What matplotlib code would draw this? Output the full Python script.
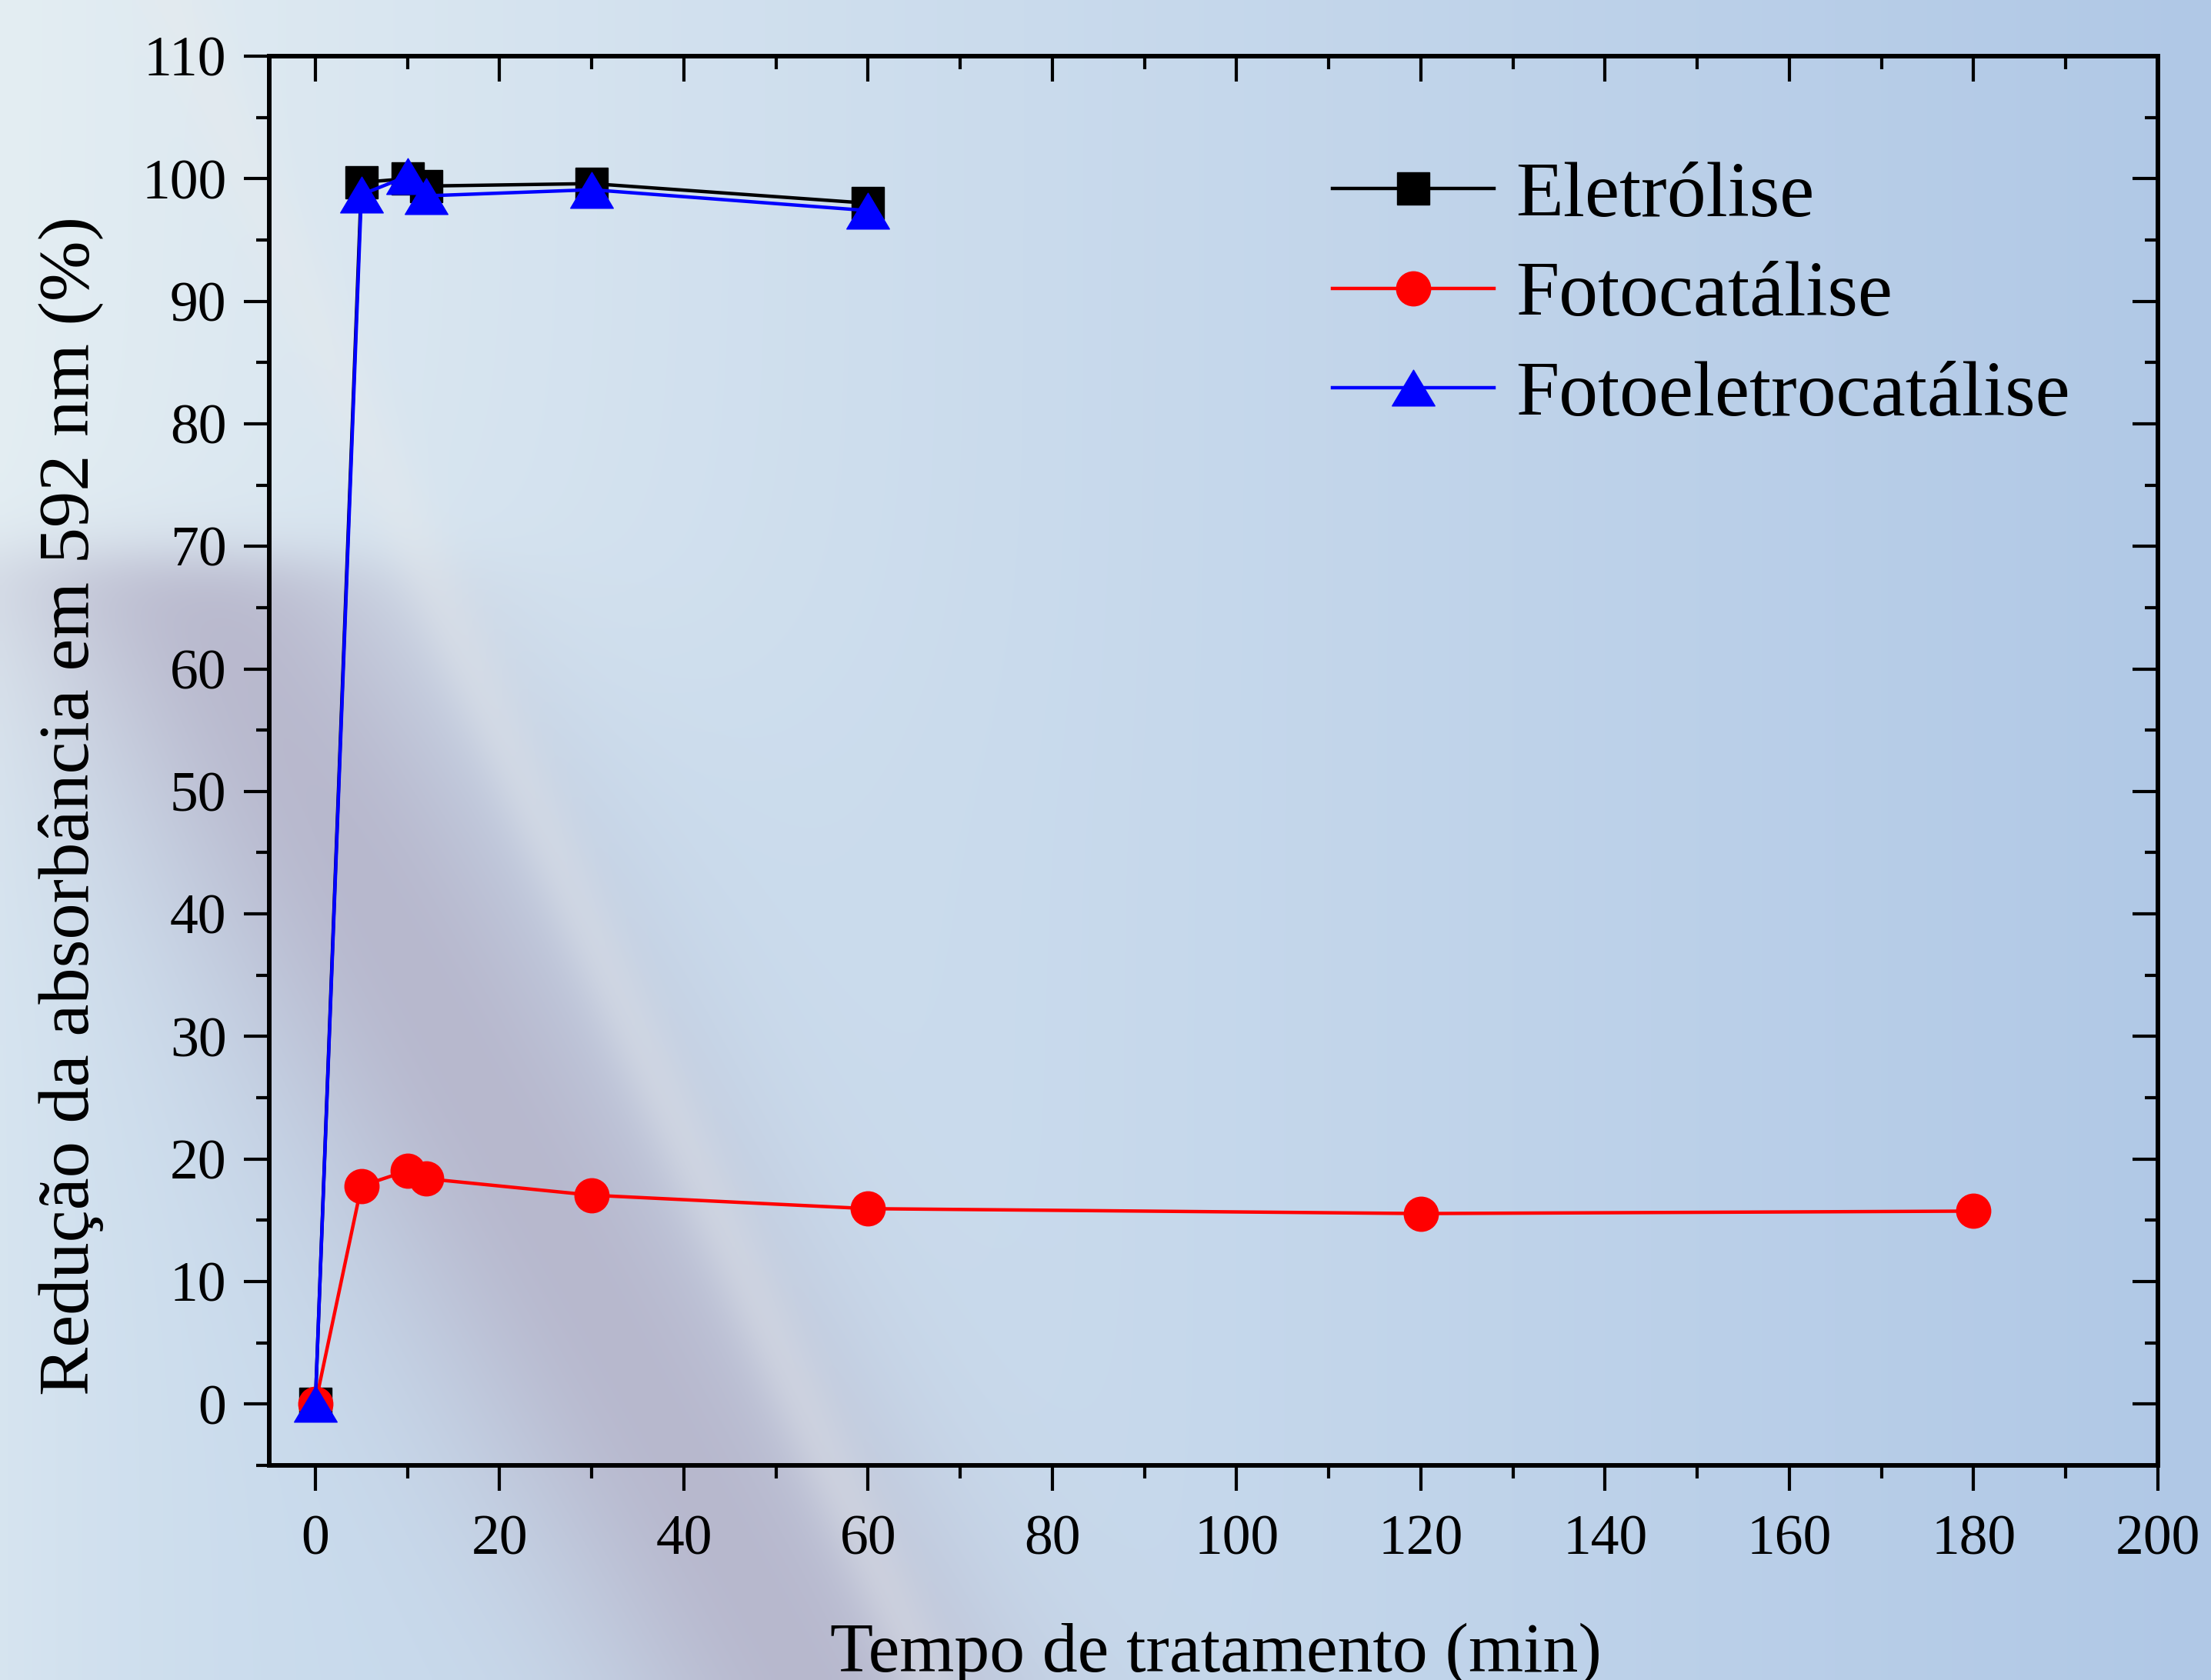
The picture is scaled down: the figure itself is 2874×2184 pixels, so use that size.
import numpy as np
import matplotlib
matplotlib.use("Agg")
import matplotlib.pyplot as plt
from matplotlib.path import Path
from matplotlib.ticker import MultipleLocator

# data
tempo_el = [0, 5, 10, 12, 30, 60]
eletrolise = [0, 99.7, 100.0, 99.4, 99.6, 98.0]

tempo_fc = [0, 5, 10, 12, 30, 60, 120, 180]
fotocatalise = [0, 17.8, 19.05, 18.4, 17.05, 15.95, 15.55, 15.75]

tempo_fec = [0, 5, 10, 12, 30, 60]
fotoeletro = [0, 98.7, 100.2, 98.6, 99.1, 97.4]

labels = ["Eletrólise", "Fotocatálise", "Fotoeletrocatálise"]

plt.rcParams["font.family"] = ["Liberation Serif", "DejaVu Serif"]

W, H = 2874, 2184
fig = plt.figure(figsize=(W / 100, H / 100), dpi=100)

# soft photo-like background (light blue with a grey-violet diagonal band)
bg = fig.add_axes([0, 0, 1, 1], zorder=-10)
gx, gy = np.meshgrid(np.linspace(0, 1568, 400), np.linspace(0, 1192, 304))
t = gx / 1568
img = np.zeros(gx.shape + (3,))
left_c = np.array([228, 238, 243]) / 255
right_c = np.array([176, 200, 230]) / 255
for k in range(3):
    img[..., k] = left_c[k] + (right_c[k] - left_c[k]) * t ** 0.9

# bluish lower-left area
blue_c = np.array([190, 211, 234]) / 255
m_blue = 1 / (1 + np.exp(-(gy - 500) / 60)) * np.exp(-((gx - 250) / 350) ** 2) * 0.6
for k in range(3):
    img[..., k] = img[..., k] * (1 - m_blue) + blue_c[k] * m_blue

# grey-violet band
grey_c = np.array([180, 178, 200]) / 255
xc = 380 + (gy - 850) * 0.55
m_grey = np.exp(-((gx - xc) / 150) ** 2) * (1 / (1 + np.exp(-(gy - 395) / 12))) * 0.85
for k in range(3):
    img[..., k] = img[..., k] * (1 - m_grey) + grey_c[k] * m_grey

# faint light streak
xs = 120 + gy * 0.45
m_light = np.exp(-((gx - xs) / 25) ** 2) * 0.3
for k in range(3):
    img[..., k] = img[..., k] * (1 - m_light) + 0.92 * m_light

bg.imshow(np.clip(img, 0, 1), aspect="auto", interpolation="bilinear", extent=[0, 1, 0, 1])
bg.set_axis_off()

ax = fig.add_axes([350 / W, (H - 1905) / H, (2805 - 350) / W, (1905 - 73) / H])
ax.patch.set_alpha(0)

tri = Path([(-1, -0.84), (1, -0.84), (0, 0.84), (-1, -0.84)], closed=True)

ax.plot(tempo_el, eletrolise, color="black", lw=3.2, marker="s", ms=30,
        mfc="black", mec="black", label=labels[0], zorder=3)
ax.plot(tempo_fc, fotocatalise, color="red", lw=3.2, marker="o", ms=32,
        mfc="red", mec="red", label=labels[1], zorder=4)
ax.plot(tempo_fec, fotoeletro, color="blue", lw=3.2, marker=tri, ms=40,
        mfc="blue", mec="blue", label=labels[2], zorder=5)

ax.set_xlim(-5, 200)
ax.set_ylim(-5, 110)
ax.xaxis.set_major_locator(MultipleLocator(20))
ax.xaxis.set_minor_locator(MultipleLocator(10))
ax.yaxis.set_major_locator(MultipleLocator(10))
ax.yaxis.set_minor_locator(MultipleLocator(5))

for sp in ax.spines.values():
    sp.set_linewidth(4.3)

ax.tick_params(which="both", direction="out", width=3, labelsize=53,
               top=False, right=False)
ax.tick_params(which="major", length=24)
ax.tick_params(which="minor", length=12)
ax.tick_params(axis="x", pad=22)
ax.tick_params(axis="y", pad=16)

# inward ticks on top and right, as in the original
ax2 = ax.secondary_xaxis("top")
ax2.xaxis.set_major_locator(MultipleLocator(20))
ax2.xaxis.set_minor_locator(MultipleLocator(10))
ax2.tick_params(which="both", direction="in", width=3, labeltop=False)
ax2.tick_params(which="major", length=24)
ax2.tick_params(which="minor", length=12)
ax2.spines["top"].set_linewidth(4.3)
ax3 = ax.secondary_yaxis("right")
ax3.yaxis.set_major_locator(MultipleLocator(10))
ax3.yaxis.set_minor_locator(MultipleLocator(5))
ax3.tick_params(which="both", direction="in", width=3, labelright=False)
ax3.tick_params(which="major", length=24)
ax3.tick_params(which="minor", length=12)
ax3.spines["right"].set_linewidth(4.3)

ax.set_xlabel("Tempo de tratamento (min)", fontsize=66, va="baseline")
ax.xaxis.set_label_coords(0.501, (1905 - 2173) / 1832)
ax.set_ylabel("Redução da absorbância em 592 nm (%)", fontsize=68, va="center")
ax.yaxis.set_label_coords((93 - 350) / 2455, (1905 - 1048) / 1832)

ax.legend(loc="upper left", bbox_to_anchor=(1732 / W, (H - 210) / H),
          bbox_transform=fig.transFigure, frameon=False, fontsize=73,
          handlelength=2.07, handletextpad=0.28, labelspacing=0.36,
          borderpad=0, borderaxespad=0)

fig.savefig("out.png", dpi=100)
